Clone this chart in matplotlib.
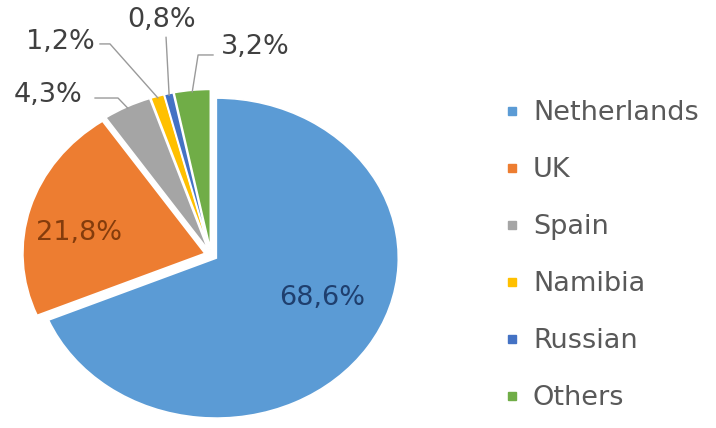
import numpy as np
import matplotlib.pyplot as plt
from matplotlib.patches import Rectangle

countries = ['Netherlands', 'UK', 'Spain', 'Namibia', 'Russian', 'Others']
shares = [68.6, 21.8, 4.3, 1.2, 0.8, 3.2]
labels = ['68,6%', '21,8%', '4,3%', '1,2%', '0,8%', '3,2%']
colors = ['#5B9BD5', '#ED7D31', '#A5A5A5', '#FFC000', '#4472C4', '#70AD47']

# label placement (axes data units, pie radius = 1)
label_pos = [(0.61, -0.27), (-0.725, 0.14), (-0.896, 1.0),
             (-0.83, 1.33), (-0.269, 1.47), (0.242, 1.30)]
label_colors = ['#1F3F6E', '#843C0C', '#404040', '#404040', '#404040', '#404040']
# leader lines: text end -> elbow, then to the slice edge
leaders = {
    2: [(-0.637, 0.981), (-0.511, 0.981)],
    3: [(-0.610, 1.319), (-0.555, 1.319)],
    4: [(-0.247, 1.36)],
    5: [(0.011, 1.25), (-0.071, 1.25)],
}

fig = plt.figure(figsize=(7.16, 4.28), dpi=100)
ax = fig.add_axes([0.0405, 0.0304, 0.5084, 0.7477])

wedges, _ = ax.pie(shares, colors=colors, startangle=90, counterclock=False,
                   explode=[0.035] * len(shares),
                   wedgeprops=dict(edgecolor='white', linewidth=1.2))
ax.set_aspect('auto')
ax.set_xlim(-1, 1)
ax.set_ylim(-1, 1)
ax.axis('off')

fs = 19.5
for i, (lab, (x, y)) in enumerate(zip(labels, label_pos)):
    t = ax.text(x, y, lab, ha='center', va='center', fontsize=fs,
                color=label_colors[i], family='DejaVu Sans')
    t.set_clip_on(False)
    if i in leaders:
        w = wedges[i]
        mid = np.deg2rad((w.theta1 + w.theta2) / 2)
        cx, cy = w.center
        end = (cx + 0.99 * np.cos(mid), cy + 0.99 * np.sin(mid))
        pts = leaders[i] + [end]
        xs, ys = zip(*pts)
        ax.plot(xs, ys, color='#9A9A9A', lw=1.0, clip_on=False)

# legend on the right
row0 = 111
pitch = 57
W, H = 716, 428
for i, (name, c) in enumerate(zip(countries, colors)):
    yc = row0 + i * pitch
    fig.patches.append(Rectangle((508 / W, 1 - (yc + 4) / H), 8 / W, 8 / H,
                                 transform=fig.transFigure, color=c))
    fig.text(533 / W, 1 - (yc + 9) / H, name, fontsize=fs, color='#595959',
             va='baseline', ha='left', family='DejaVu Sans')

fig.savefig('out.png', dpi=100)
